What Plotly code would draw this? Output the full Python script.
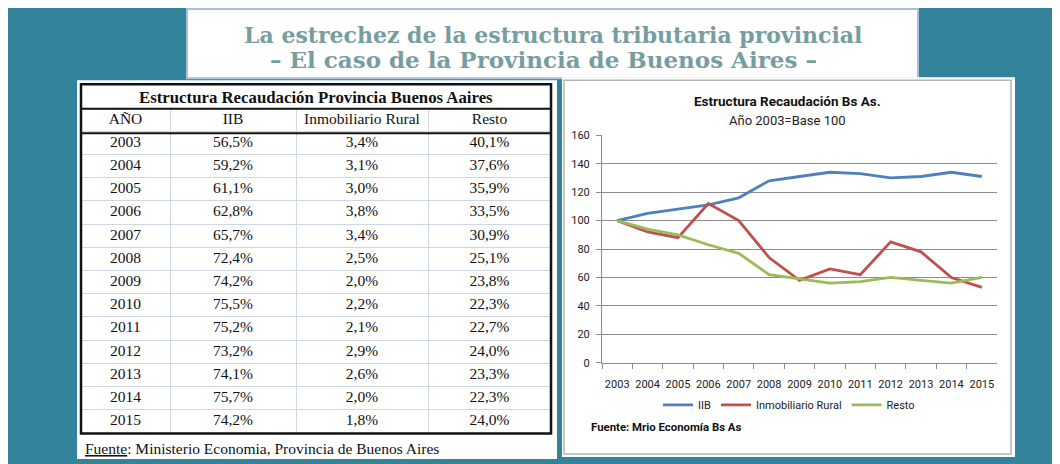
import plotly.graph_objects as go

W, H = 1060, 464

# ---------------- data ----------------
years = ["2003", "2004", "2005", "2006", "2007", "2008", "2009",
         "2010", "2011", "2012", "2013", "2014", "2015"]

# table (share of collection)
tbl_iib = ["56,5%", "59,2%", "61,1%", "62,8%", "65,7%", "72,4%", "74,2%",
           "75,5%", "75,2%", "73,2%", "74,1%", "75,7%", "74,2%"]
tbl_inmob = ["3,4%", "3,1%", "3,0%", "3,8%", "3,4%", "2,5%", "2,0%",
             "2,2%", "2,1%", "2,9%", "2,6%", "2,0%", "1,8%"]
tbl_resto = ["40,1%", "37,6%", "35,9%", "33,5%", "30,9%", "25,1%", "23,8%",
             "22,3%", "22,7%", "24,0%", "23,3%", "22,3%", "24,0%"]
tbl_headers = ["AÑO", "IIB", "Inmobiliario Rural", "Resto"]

# chart (index, 2003 = 100)
idx_iib = [100, 105, 108, 111, 116, 128, 131, 134, 133, 130, 131, 134, 131]
idx_inmob = [100, 92, 88, 112, 100, 74, 58, 66, 62, 85, 78, 60, 53]
idx_resto = [100, 94, 90, 83, 77, 62, 59, 56, 57, 60, 58, 56, 60]
y_ticks = [0, 20, 40, 60, 80, 100, 120, 140, 160]

# ---------------- layout helpers (map screen pixels to paper coords) ----------------
OFF_X = 8
TOP, SPAN = 14, 450

def px(x):
    return (x - OFF_X) / W

def py(y):
    return 1 - (y - TOP) / SPAN

def rect(x0, y0, x1, y1, fill=None, line=None, lw=0, layer="below"):
    d = dict(type="rect", xref="paper", yref="paper",
             x0=px(x0), x1=px(x1), y0=py(y1), y1=py(y0), layer=layer,
             line=dict(width=lw, color=line if line else "rgba(0,0,0,0)"))
    if fill:
        d["fillcolor"] = fill
    return d

def hline(x0, x1, y, color, lw, layer="above"):
    return dict(type="line", xref="paper", yref="paper",
                x0=px(x0), x1=px(x1), y0=py(y), y1=py(y), layer=layer,
                line=dict(color=color, width=lw))

fig = go.Figure()

# ---------------- table (text traces on a hidden grid) ----------------
SERIF = "Liberation Serif, Times New Roman, serif"
TBL_X0, TBL_X1 = 81, 551
col_edges = [0, 89, 215, 347, 470]
col_centers = [(a + b) / 2 for a, b in zip(col_edges[:-1], col_edges[1:])]
row_cats = ["hdr"] + years

tfont = dict(family=SERIF, size=15.5, color="#111111")
fig.add_trace(go.Scatter(x=col_centers, y=["hdr"] * 4, text=tbl_headers,
                         mode="text", textposition="middle center", textfont=tfont,
                         xaxis="x2", yaxis="y2", showlegend=False, hoverinfo="skip",
                         cliponaxis=False))
for ci, col in enumerate([years, tbl_iib, tbl_inmob, tbl_resto]):
    fig.add_trace(go.Scatter(x=[col_centers[ci]] * len(col), y=years, text=col,
                             mode="text", textposition="middle center", textfont=tfont,
                             xaxis="x2", yaxis="y2", showlegend=False, hoverinfo="skip",
                             cliponaxis=False))

# ---------------- line chart ----------------
colors = {"IIB": "#4F81BD", "Inmobiliario Rural": "#C0504D", "Resto": "#9BBB59"}
for name, vals in [("IIB", idx_iib), ("Inmobiliario Rural", idx_inmob), ("Resto", idx_resto)]:
    fig.add_trace(go.Scatter(x=years, y=vals, name=name, mode="lines",
                             line=dict(color=colors[name], width=2.8)))

CAL = "Roboto, Arial, sans-serif"
GRID_T = "#cfd6e4"
fig.update_layout(
    width=W, height=H, margin=dict(l=0, r=0, t=0, b=0),
    paper_bgcolor="white", plot_bgcolor="rgba(0,0,0,0)",
    xaxis=dict(domain=[px(602), px(997)], type="category", range=[-0.5, 12.5],
               showgrid=False, showline=True, linecolor="#8c8c8c", linewidth=1,
               ticks="outside", tickson="boundaries", ticklen=5, tickcolor="#8c8c8c",
               ticklabelstandoff=11, tickangle=0,
               tickfont=dict(family=CAL, size=11, color="#222222"), fixedrange=True),
    yaxis=dict(domain=[py(362), py(135)], range=[0, 160], tickvals=y_ticks,
               showgrid=True, gridcolor="#8c8c8c", gridwidth=1,
               showline=True, linecolor="#8c8c8c", linewidth=1, zeroline=False,
               ticks="outside", ticklen=5, tickcolor="#8c8c8c", ticklabelstandoff=4,
               tickfont=dict(family=CAL, size=11, color="#222222"), fixedrange=True),
    xaxis2=dict(domain=[px(TBL_X0), px(TBL_X1)], range=[0, col_edges[-1]], anchor="y2",
                tickvals=col_edges[1:-1], showgrid=True, gridcolor=GRID_T, gridwidth=1,
                showticklabels=False, ticks="", zeroline=False, showline=False,
                fixedrange=True),
    yaxis2=dict(domain=[py(432), py(108)], type="category", categoryarray=row_cats,
                categoryorder="array", range=[len(row_cats) - 0.5, -0.5], anchor="x2",
                tickson="boundaries", showgrid=True, gridcolor=GRID_T, gridwidth=1,
                showticklabels=False, ticks="", zeroline=False, showline=False,
                fixedrange=True),
    showlegend=True,
    legend=dict(orientation="h", x=px(789), y=py(404), xanchor="center", yanchor="middle",
                font=dict(family=CAL, size=11, color="#222222"),
                bgcolor="rgba(0,0,0,0)", itemwidth=30, tracegroupgap=0),
)

# ---------------- decorations ----------------
shapes = [
    rect(0, 0, 1070, 480, fill="#33839B"),
    rect(187, 9, 918, 78, fill="white", line="#a9bedc", lw=2),
    rect(77, 80, 557, 458, fill="white"),
    rect(562, 77, 1015, 456, fill="white"),
    rect(564, 80, 1011, 453, line="#b4b4b4", lw=1.5),
    # table borders
    rect(81, 84, 551, 432.5, line="#111111", lw=2.5, layer="above"),
    hline(81, 551, 108.5, "#111111", 2),
    hline(81, 551, 133, "#111111", 2.2),
]
fig.update_layout(shapes=shapes)

TITLE_FONT = "DejaVu Serif, Georgia, serif"
ann = [
    dict(text="<b>La estrechez de la estructura tributaria provincial</b>", x=px(553), y=py(35),
         font=dict(family=TITLE_FONT, size=22, color="#769d9f"), showarrow=False,
         xref="paper", yref="paper", xanchor="center", yanchor="middle"),
    dict(text="<b>– El caso de la Provincia de Buenos Aires –</b>", x=px(543), y=py(59),
         font=dict(family=TITLE_FONT, size=23, color="#769d9f"), showarrow=False,
         xref="paper", yref="paper", xanchor="center", yanchor="middle"),
    dict(text="<b>Estructura Recaudación Provincia Buenos Aaires</b>", x=px(316), y=py(97),
         font=dict(family=SERIF, size=16.8, color="#111111"), showarrow=False,
         xref="paper", yref="paper", xanchor="center", yanchor="middle"),
    dict(text="<u>Fuente</u>: Ministerio Economia, Provincia de Buenos Aires", x=px(83), y=py(448),
         font=dict(family=SERIF, size=15.5, color="#111111"), showarrow=False,
         xref="paper", yref="paper", xanchor="left", yanchor="middle"),
    dict(text="<b>Estructura Recaudación Bs As.</b>", x=px(787), y=py(101),
         font=dict(family=CAL, size=13.5, color="#111111"), showarrow=False,
         xref="paper", yref="paper", xanchor="center", yanchor="middle"),
    dict(text="Año 2003=Base 100", x=px(787), y=py(120),
         font=dict(family=CAL, size=13, color="#222222"), showarrow=False,
         xref="paper", yref="paper", xanchor="center", yanchor="middle"),
    dict(text="<b>Fuente: Mrio Economía Bs As</b>", x=px(589), y=py(426),
         font=dict(family=CAL, size=11.4, color="#111111"), showarrow=False,
         xref="paper", yref="paper", xanchor="left", yanchor="middle"),
]
fig.update_layout(annotations=ann)

fig.write_html("out.html")
